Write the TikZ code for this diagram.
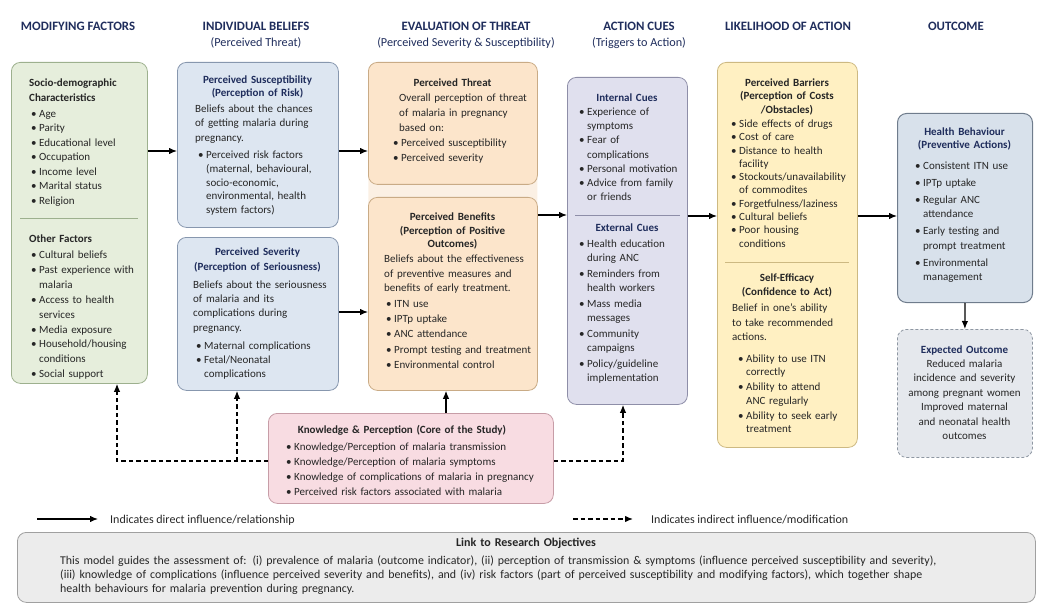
\documentclass[tikz,border=0pt]{standalone}
\usepackage{fontspec}
\setmainfont{Carlito}
\usetikzlibrary{arrows.meta,calc}
\definecolor{navy}{HTML}{1F2D5C}
\definecolor{txt}{HTML}{262626}
\definecolor{gfill}{HTML}{E6EEDC}\definecolor{gdraw}{HTML}{9DB08E}
\definecolor{bfill}{HTML}{DDE6F1}\definecolor{bdraw}{HTML}{8797AE}
\definecolor{ofill}{HTML}{FCE5CB}\definecolor{odraw}{HTML}{C9AB86}
\definecolor{obg}{HTML}{FBF0E4}
\definecolor{lfill}{HTML}{E0E0EE}\definecolor{ldraw}{HTML}{8E8EA8}
\definecolor{yfill}{HTML}{FFF0C2}\definecolor{ydraw}{HTML}{CDB982}
\definecolor{hfill}{HTML}{D8E1EB}\definecolor{hdraw}{HTML}{6F7C8C}
\definecolor{efill}{HTML}{E5E8ED}\definecolor{edraw}{HTML}{8E97A2}
\definecolor{pfill}{HTML}{F8DCE2}\definecolor{pdraw}{HTML}{C79DA7}
\definecolor{kfill}{HTML}{ECECEC}\definecolor{kdraw}{HTML}{A0A0A0}
\newcommand\bu{\makebox[8pt][l]{\textbullet}}
\newcommand\bc{\hspace*{8pt}}
\tikzset{
  box/.style={rounded corners=9pt, inner sep=0pt, line width=0.8pt, anchor=north west},
  tl/.style={anchor=base west, inner sep=0pt, text width=#1, align=left, text=txt},
  tc/.style={anchor=base, inner sep=0pt, text width=#1, align=center, text=txt},
  fs/.style={font=\fontsize{11}{#1}\selectfont},
  fb/.style={font=\fontsize{11}{#1}\selectfont\bfseries},
  hdr/.style={anchor=base, inner sep=0pt, text=navy, font=\fontsize{12.8}{14}\selectfont\bfseries},
  sub/.style={anchor=base, inner sep=0pt, text=navy, font=\fontsize{12.2}{13}\selectfont},
  arr/.style={line width=1.2pt, -{Latex[length=8pt,width=6.5pt]}},
  darr/.style={line width=1.3pt, dash pattern=on 4.5pt off 3pt, -{Latex[length=8pt,width=6.5pt]}},
  sepline/.style={line width=1pt}
}
\begin{document}
\begin{tikzpicture}[x=1pt,y=-1pt]
\useasboundingbox (0,0) rectangle (1053,607);
% headers
\node[hdr] (h1) at (78,31) {MODIFYING FACTORS};
\node[hdr] (h2) at (256,31) {INDIVIDUAL BELIEFS};
\node[sub] (h2s) at (256,47) {(Perceived Threat)};
\node[hdr] (h3) at (466,31) {EVALUATION OF THREAT};
\node[sub] (h3s) at (466,47) {(Perceived Severity \& Susceptibility)};
\node[hdr] (h4) at (639,31) {ACTION CUES};
\node[sub] (h4s) at (639,47) {(Triggers to Action)};
\node[hdr] (h5) at (788,31) {LIKELIHOOD OF ACTION};
\node[hdr] (h6) at (956,31) {OUTCOME};
% boxes
\node[box, fill=obg, draw=none, minimum width=169pt, minimum height=328pt] (bg) at (368,62) {};
\node[box, fill=gfill, draw=gdraw, minimum width=136pt, minimum height=321pt] (b1) at (11,62) {};
\node[box, fill=bfill, draw=bdraw, minimum width=161pt, minimum height=165pt] (b2) at (177,62) {};
\node[box, fill=bfill, draw=bdraw, minimum width=161pt, minimum height=153pt] (b3) at (177,237) {};
\node[box, fill=ofill, draw=odraw, minimum width=169pt, minimum height=122pt] (b4) at (368,62) {};
\node[box, fill=ofill, draw=odraw, minimum width=169pt, minimum height=193pt] (b5) at (368,197) {};
\node[box, fill=lfill, draw=ldraw, minimum width=120pt, minimum height=327pt] (b6) at (567,77) {};
\node[box, fill=yfill, draw=ydraw, minimum width=140pt, minimum height=385pt] (b7) at (717,62) {};
\node[box, fill=hfill, draw=hdraw, line width=1pt, minimum width=135pt, minimum height=189pt] (b8) at (897,113) {};
\node[box, fill=efill, draw=edraw, dash pattern=on 3pt off 2pt, minimum width=135pt, minimum height=128pt] (b9) at (897,329) {};
\node[box, fill=pfill, draw=pdraw, minimum width=285pt, minimum height=90pt] (b10) at (268,413) {};
\node[box, fill=kfill, draw=kdraw, minimum width=1018pt, minimum height=70pt] (b11) at (17,532) {};
% separators
\coordinate (s1a) at (20,219); \coordinate (s1b) at (138,219);
\draw[sepline, draw=gdraw] (s1a) -- (s1b);
\coordinate (s6a) at (575,216); \coordinate (s6b) at (680,216);
\draw[sepline, draw=ldraw] (s6a) -- (s6b);
\coordinate (s7a) at (725,262); \coordinate (s7b) at (849,262);
\draw[sepline, draw=ydraw] (s7a) -- (s7b);
% box 1 text
\node[tl=130, fb=15] (t1a) at (29,86.5) {Socio-demographic\\Characteristics};
\node[tl=130, fs=14.5] (t1b) at (31,117.5) {\bu Age\\ \bu Parity\\ \bu Educational level\\ \bu Occupation\\ \bu Income level\\ \bu Marital status\\ \bu Religion};
\node[tl=130, fb=15] (t1c) at (29,242.5) {Other Factors};
\node[tl=130, fs=14.9] (t1d) at (31,258.5) {\bu Cultural beliefs\\ \bu Past experience with\\ \bc malaria\\ \bu Access to health\\ \bc services\\ \bu Media exposure\\ \bu Household/housing\\ \bc conditions\\ \bu Social support};
% box 2 text
\node[tc=160, fb=13, text=navy] (t2a) at (257.5,83.5) {Perceived Susceptibility\\(Perception of Risk)};
\node[tl=150, fs=14.5] (t2b) at (195,112.5) {Beliefs about the chances\\of getting malaria during\\pregnancy.};
\node[tl=150, fs=13.8] (t2c) at (198,158.5) {\bu Perceived risk factors\\ \bc (maternal, behavioural,\\ \bc socio-economic,\\ \bc environmental, health\\ \bc system factors)};
% box 3 text
\node[tc=160, fb=14.5, text=navy] (t3a) at (257.5,255.5) {Perceived Severity\\(Perception of Seriousness)};
\node[tl=150, fs=14.2] (t3b) at (193,288.5) {Beliefs about the seriousness\\of malaria and its\\complications during\\pregnancy.};
\node[tl=150, fs=14] (t3c) at (196,349.5) {\bu Maternal complications\\ \bu Fetal/Neonatal\\ \bc complications};
% box 4 text
\node[tc=168, fb=14] (t4a) at (452.5,86.5) {Perceived Threat};
\node[tl=150, fs=15] (t4b) at (399,101.5) {Overall perception of threat\\of malaria in pregnancy\\based on:};
\node[tl=150, fs=15.5] (t4c) at (393,146.5) {\bu Perceived susceptibility\\ \bu Perceived severity};
% box 5 text
\node[tc=168, fb=13.5] (t5a) at (452.5,220.5) {Perceived Benefits\\(Perception of Positive\\Outcomes)};
\node[tl=160, fs=14.5] (t5b) at (384,262.5) {Beliefs about the effectiveness\\of preventive measures and\\benefits of early treatment.};
\node[tl=160, fs=15.2] (t5c) at (386,307.5) {\bu ITN use\\ \bu IPTp uptake\\ \bu ANC attendance\\ \bu Prompt testing and treatment\\ \bu Environmental control};
% box 6 text
\node[tc=118, fb=14, text=navy] (t6a) at (627,101.5) {Internal Cues};
\node[tl=118, fs=14.2] (t6b) at (579,115.5) {\bu Experience of\\ \bc symptoms\\ \bu Fear of\\ \bc complications\\ \bu Personal motivation\\ \bu Advice from family\\ \bc or friends};
\node[tc=118, fb=14, text=navy] (t6c) at (627,231.5) {External Cues};
\node[tl=118, fs=14] (t6d) at (579,247.5) {\bu Health education\\ \bc during ANC\\[2pt] \bu Reminders from\\ \bc health workers\\[2pt] \bu Mass media\\ \bc messages\\[2pt] \bu Community\\ \bc campaigns\\[2pt] \bu Policy/guideline\\ \bc implementation};
% box 7 text
\node[tc=138, fb=13.5] (t7a) at (787,86.5) {Perceived Barriers\\(Perception of Costs\\/Obstacles)};
\node[tl=130, fs=13.3] (t7b) at (731,127.5) {\bu Side effects of drugs\\ \bu Cost of care\\ \bu Distance to health\\ \bc facility\\ \bu Stockouts/unavailability\\ \bc of commodites\\ \bu Forgetfulness/laziness\\ \bu Cultural beliefs\\ \bu Poor housing\\ \bc conditions};
\node[tc=138, fb=14] (t7c) at (787,281.5) {Self-Efficacy\\(Confidence to Act)};
\node[tl=130, fs=14.5] (t7d) at (732,311.5) {Belief in one’s ability\\to take recommended\\actions.};
\node[tl=120, fs=13.3] (t7e) at (738,362.5) {\bu Ability to use ITN\\ \bc correctly\\[1.7pt] \bu Ability to attend\\ \bc ANC regularly\\[1.7pt] \bu Ability to seek early\\ \bc treatment};
% box 8 text
\node[tc=134, fb=13, text=navy] (t8a) at (964.5,135.5) {Health Behaviour\\(Preventive Actions)};
\node[tl=115, fs=14.5] (t8b) at (915,169.5) {\bu Consistent ITN use\\[2.5pt] \bu IPTp uptake\\[2.5pt] \bu Regular ANC\\ \bc attendance\\[2.5pt] \bu Early testing and\\ \bc prompt treatment\\[2.5pt] \bu Environmental\\ \bc management};
% box 9 text
\node[tc=134, fb=14, text=navy] (t9a) at (964.5,353.5) {Expected Outcome};
\node[tc=134, fs=14.4] (t9b) at (964.5,367.5) {Reduced malaria\\incidence and severity\\among pregnant women\\Improved maternal\\and neonatal health\\outcomes};
% box 10 text
\node[tc=280, fb=14] (t10a) at (402,433.5) {Knowledge \& Perception (Core of the Study)};
\node[tl=260, fs=15] (t10b) at (286,450.5) {\bu Knowledge/Perception of malaria transmission\\ \bu Knowledge/Perception of malaria symptoms\\ \bu Knowledge of complications of malaria in pregnancy\\ \bu Perceived risk factors associated with malaria};
% box 11 text
\node[tc=600, font=\fontsize{12}{14}\selectfont\bfseries] (t11a) at (526,546.5) {Link to Research Objectives};
\node[tl=968, font=\fontsize{11.9}{14}\selectfont] (t11b) at (60,564.5) {This model guides the assessment of: (i) prevalence of malaria (outcome indicator), (ii) perception of transmission \& symptoms (influence perceived susceptibility and severity),\\(iii) knowledge of complications (influence perceived severity and benefits), and (iv) risk factors (part of perceived susceptibility and modifying factors), which together shape\\health behaviours for malaria prevention during pregnancy.};
% solid connectors
\coordinate (r151) at (0,151);
\coordinate (r312) at (0,312);
\coordinate (r215) at (0,215);
\coordinate (r216) at (0,216);
\coordinate (c446) at (446,0);
\draw[arr] (b1.east |- r151) -- (b2.west |- r151);
\draw[arr] (b2.east |- r151) -- (b4.west |- r151);
\draw[arr] (b3.east |- r312) -- (b5.west |- r312);
\draw[arr] (b5.east |- r215) -- (b6.west |- r215);
\draw[arr] (b6.east |- r216) -- (b7.west |- r216);
\draw[arr] (b7.east |- r216) -- (b8.west |- r216);
\draw[arr] (b8.south) -- (b9.north);
\draw[arr] (b10.north -| c446) -- (b5.south -| c446);
% dashed connectors
\coordinate (jL) at (117,461);
\coordinate (jM) at (237,461);
\coordinate (jR) at (623,461);
\draw[darr] (b10.west |- jL) -- (jL) -- (b1.south -| jL);
\draw[darr] (jM) -- (b3.south -| jM);
\draw[darr] (b10.east |- jR) -- (jR) -- (b6.south -| jR);
% legend
\coordinate (lg1) at (37,519); \coordinate (lg2) at (98,519);
\coordinate (lg3) at (573,519); \coordinate (lg4) at (633,519);
\draw[arr] (lg1) -- (lg2);
\draw[darr] (lg3) -- (lg4);
\node[anchor=base west, inner sep=0pt, text=txt, font=\fontsize{12}{13}\selectfont] (lt1) at (110,523) {Indicates direct influence/relationship};
\node[anchor=base west, inner sep=0pt, text=txt, font=\fontsize{12}{13}\selectfont] (lt2) at (651,523) {Indicates indirect influence/modification};
\end{tikzpicture}
\end{document}
